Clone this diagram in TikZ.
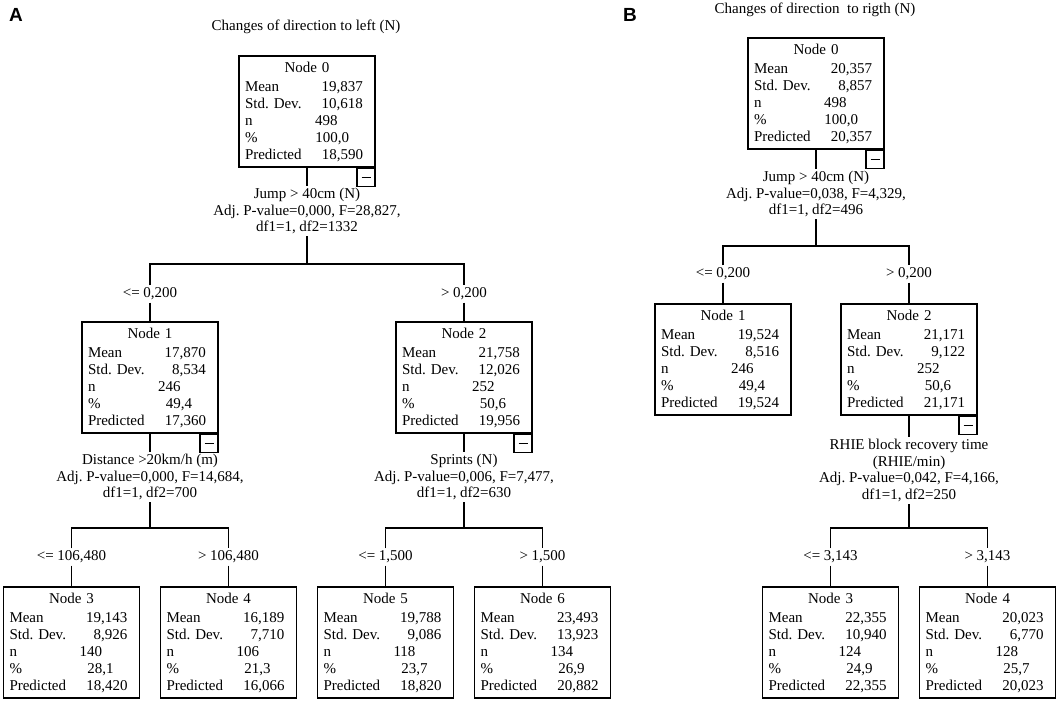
\documentclass[tikz,border=0pt]{standalone}
\usepackage{fontspec}
\setmainfont{Liberation Serif}
\setsansfont{Liberation Sans}
\usepackage{tikz}

\newcommand\stats[6]{%
  \makebox[124pt][c]{#1}\\[2pt]
  \makebox[70pt][l]{Mean}\makebox[48pt][r]{#2}\\
  \makebox[70pt][l]{Std.\ Dev.}\makebox[48pt][r]{#3}\\
  \makebox[70pt][l]{n}\makebox[48pt][l]{#4}\\
  \makebox[70pt][l]{\%}\makebox[34pt][r]{#5}\\
  \makebox[70pt][l]{Predicted}\makebox[48pt][r]{#6}}

\begin{document}
\begin{tikzpicture}[x=1pt,y=-1pt,line width=1.1pt,
    every node/.style={font=\fontsize{15}{17}\selectfont},
    tnode/.style={draw,rectangle,inner xsep=6pt,inner ysep=0pt,
      text width=124pt,minimum height=111pt,align=left},
    minbox/.style={draw,rectangle,inner sep=0pt,minimum size=18pt,anchor=north east},
    split/.style={align=center,inner sep=2pt,font=\fontsize{15}{16.5}\selectfont},
    brlbl/.style={inner sep=2pt},
    panel/.style={font=\fontsize{19}{19}\sffamily\bfseries}]
  \useasboundingbox (0,0) rectangle (1059,702);

  \node[panel] (pa) at (16,15) {A};
  \node (ta) at (306,27) {Changes of direction to left (N)};

  \node[tnode] (a0) at (307,111.5) {\stats{Node 0}{19,837}{10,618}{498}{100,0}{18,590}};
  \node[minbox] (a0m) at (a0.south east) {\rule{9pt}{1.2pt}};
  \node[split] (a0s) at (307,211) {Jump > 40cm (N)\\Adj.\ P-value=0,000, F=28,827,\\df1=1, df2=1332};
  \coordinate (a0b) at (307,264);
  \node[brlbl] (a1e) at (150,294) {<= 0,200};
  \node[brlbl] (a2e) at (464,294) {> 0,200};

  \node[tnode] (a1) at (150,377.5) {\stats{Node 1}{17,870}{8,534}{246}{49,4}{17,360}};
  \node[minbox] (a1m) at (a1.south east) {\rule{9pt}{1.2pt}};
  \node[tnode] (a2) at (464,377.5) {\stats{Node 2}{21,758}{12,026}{252}{50,6}{19,956}};
  \node[minbox] (a2m) at (a2.south east) {\rule{9pt}{1.2pt}};

  \node[split] (a1s) at (150,477) {Distance >20km/h (m)\\Adj.\ P-value=0,000, F=14,684,\\df1=1, df2=700};
  \node[split] (a2s) at (464,477) {Sprints (N)\\Adj.\ P-value=0,006, F=7,477,\\df1=1, df2=630};
  \coordinate (a1b) at (150,528);
  \coordinate (a2b) at (464,528);
  \node[brlbl] (a3e) at (71.5,557) {<= 106,480};
  \node[brlbl] (a4e) at (228.5,557) {> 106,480};
  \node[brlbl] (a5e) at (385.5,557) {<= 1,500};
  \node[brlbl] (a6e) at (542.5,557) {> 1,500};

  \node[tnode] (a3) at (71.5,642.5) {\stats{Node 3}{19,143}{8,926}{140}{28,1}{18,420}};
  \node[tnode] (a4) at (228.5,642.5) {\stats{Node 4}{16,189}{7,710}{106}{21,3}{16,066}};
  \node[tnode] (a5) at (385.5,642.5) {\stats{Node 5}{19,788}{9,086}{118}{23,7}{18,820}};
  \node[tnode] (a6) at (542.5,642.5) {\stats{Node 6}{23,493}{13,923}{134}{26,9}{20,882}};

  \draw (a0) -- (a0s);
  \draw (a0s) -- (a0b);
  \draw (a1e) |- (a0b) -| (a2e);
  \draw (a1e) -- (a1);
  \draw (a2e) -- (a2);
  \draw (a1) -- (a1s);
  \draw (a2) -- (a2s);
  \draw (a1s) -- (a1b);
  \draw (a2s) -- (a2b);
  \draw (a3e) |- (a1b) -| (a4e);
  \draw (a5e) |- (a2b) -| (a6e);
  \draw (a3e) -- (a3);
  \draw (a4e) -- (a4);
  \draw (a5e) -- (a5);
  \draw (a6e) -- (a6);

  \node[panel] (pb) at (630,15) {B};
  \node (tb) at (815,10) {Changes of direction\ \ to rigth (N)};

  \node[tnode] (b0) at (816,93.5) {\stats{Node 0}{20,357}{8,857}{498}{100,0}{20,357}};
  \node[minbox] (b0m) at (b0.south east) {\rule{9pt}{1.2pt}};
  \node[split] (b0s) at (816,194) {Jump > 40cm (N)\\Adj.\ P-value=0,038, F=4,329,\\df1=1, df2=496};
  \coordinate (b0b) at (816,246);
  \node[brlbl] (b1e) at (723,274) {<= 0,200};
  \node[brlbl] (b2e) at (909,274) {> 0,200};

  \node[tnode] (b1) at (723,359.5) {\stats{Node 1}{19,524}{8,516}{246}{49,4}{19,524}};
  \node[tnode] (b2) at (909,359.5) {\stats{Node 2}{21,171}{9,122}{252}{50,6}{21,171}};
  \node[minbox] (b2m) at (b2.south east) {\rule{9pt}{1.2pt}};
  \node[split] (b2s) at (909,470.5) {RHIE block recovery time\\(RHIE/min)\\Adj.\ P-value=0,042, F=4,166,\\df1=1, df2=250};
  \coordinate (b2b) at (909,528);
  \node[brlbl] (b3e) at (830.5,557) {<= 3,143};
  \node[brlbl] (b4e) at (987.5,557) {> 3,143};

  \node[tnode] (b3) at (830.5,642.5) {\stats{Node 3}{22,355}{10,940}{124}{24,9}{22,355}};
  \node[tnode] (b4) at (987.5,642.5) {\stats{Node 4}{20,023}{6,770}{128}{25,7}{20,023}};

  \draw (b0) -- (b0s);
  \draw (b0s) -- (b0b);
  \draw (b1e) |- (b0b) -| (b2e);
  \draw (b1e) -- (b1);
  \draw (b2e) -- (b2);
  \draw (b2) -- (b2s);
  \draw (b2s) -- (b2b);
  \draw (b3e) |- (b2b) -| (b4e);
  \draw (b3e) -- (b3);
  \draw (b4e) -- (b4);
\end{tikzpicture}
\end{document}
